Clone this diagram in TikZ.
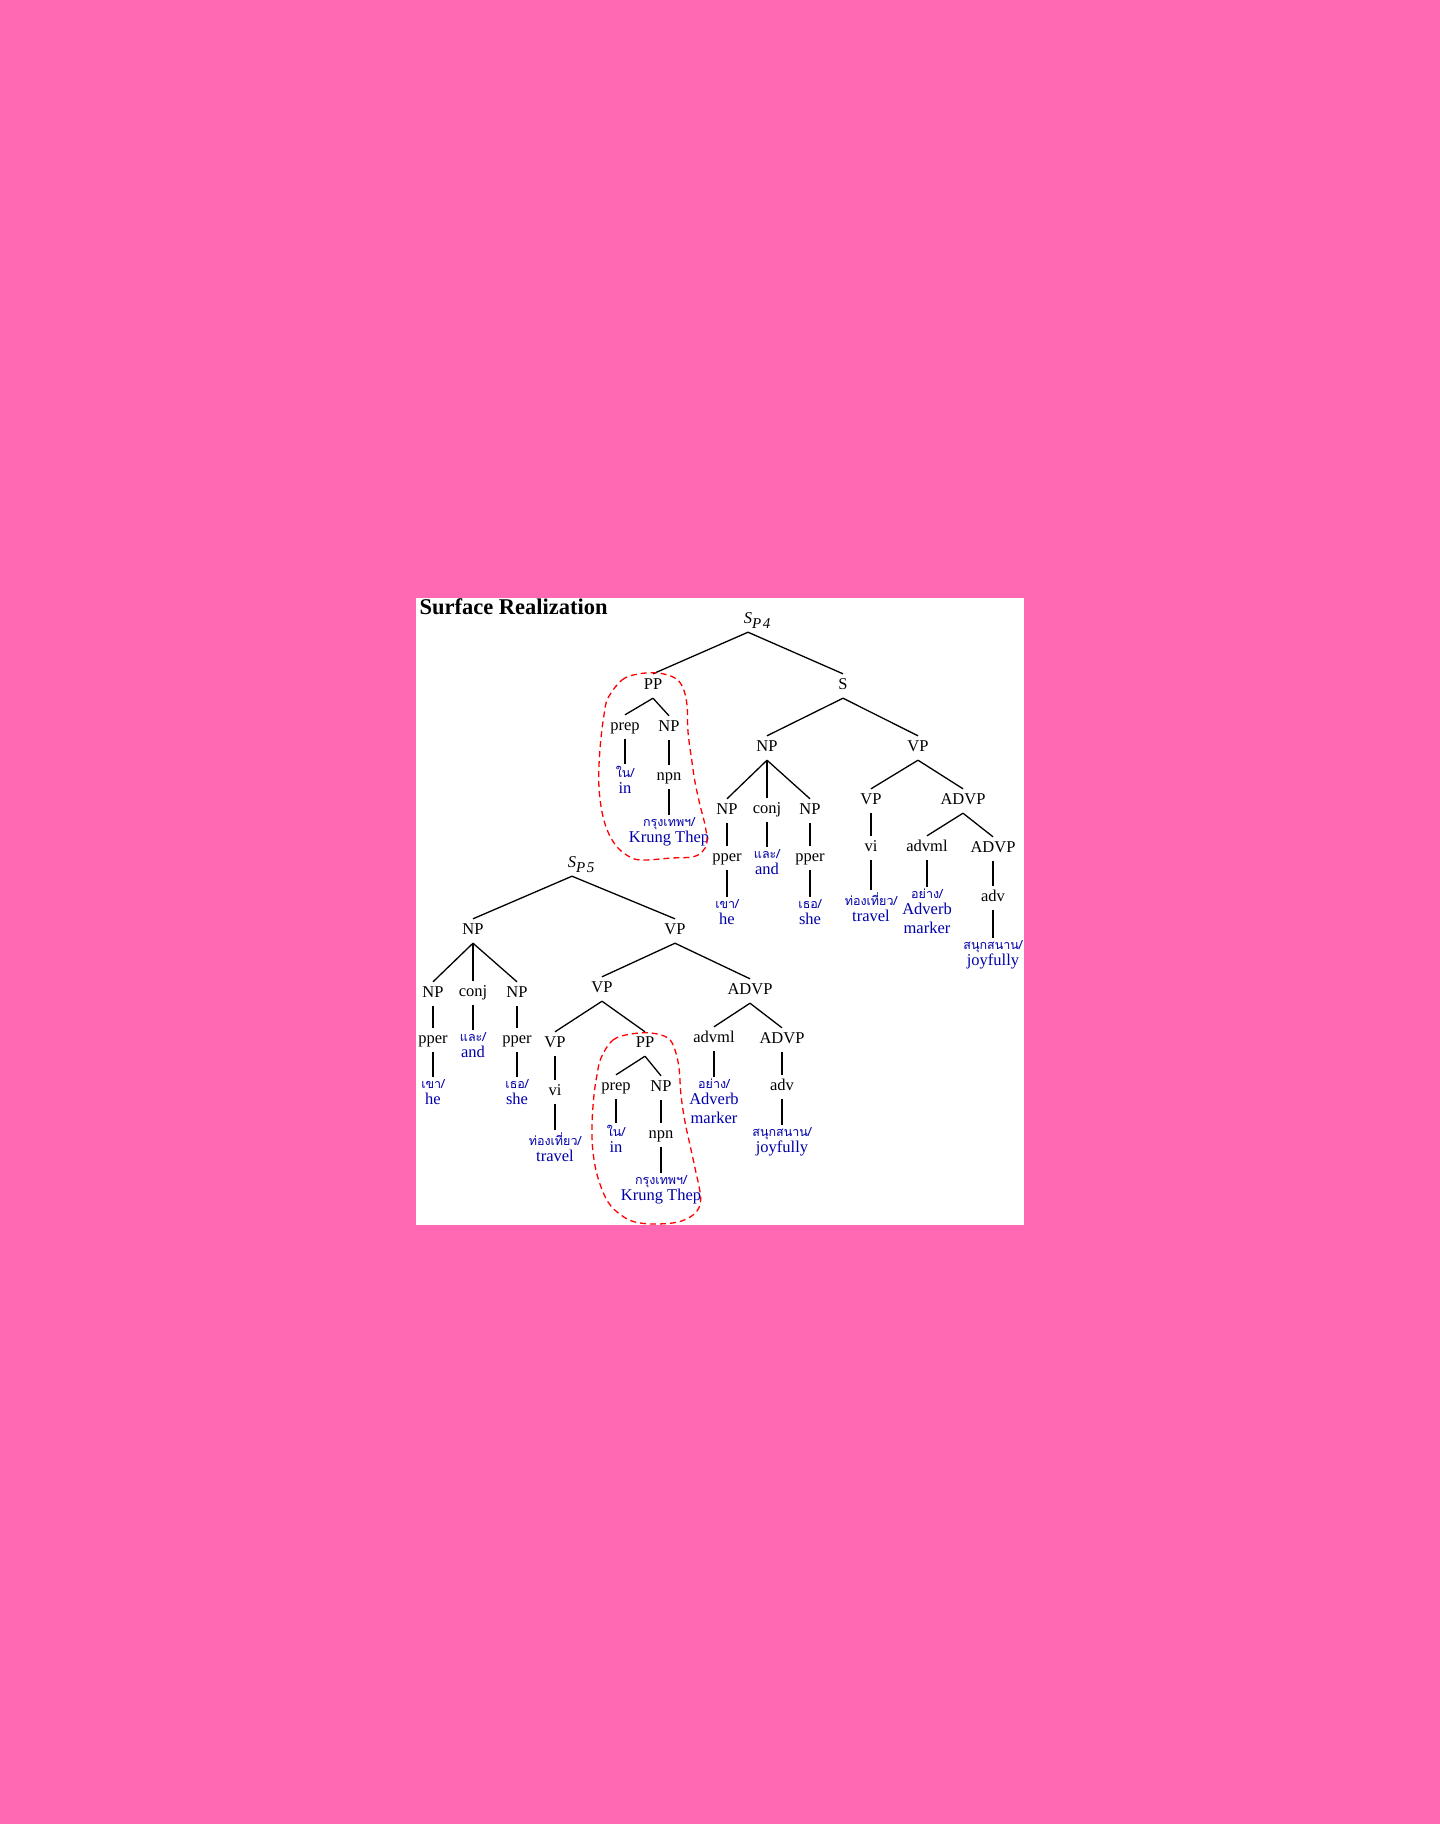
\documentclass[tikz,border=0pt]{standalone}
\usepackage{fontspec}
\setmainfont{Liberation Serif}
\newfontfamily\thaifont[Script=Thai]{Loma}
\definecolor{pinkbg}{RGB}{255,105,180}
\definecolor{wordblue}{RGB}{0,0,170}
\newcommand{\thw}[1]{{\thaifont\fontsize{12.5}{13}\selectfont #1}}
\newcommand{\subp}[1]{\rlap{\raisebox{-4.5pt}{\fontsize{15}{15}\selectfont\itshape #1}}}
\begin{document}
\begin{tikzpicture}[x = 1pt, y = -1pt]
    \fill[pinkbg] (0,0) rectangle (1440,1824);
    \fill[white] (416,598) rectangle (1024,1225);
    \useasboundingbox (0,0) rectangle (1440,1824);
    \node[anchor = base west, font = \bfseries\fontsize{22.5}{26}\selectfont] (title) at (416,614) {Surface Realization};
    \begin{scope}[every node/.append style = {font = \fontsize{16.5}{19}\selectfont, inner sep = 0pt, text height = 11pt, text depth = 3.5pt, minimum height = 24pt}]
        \node (sA) at (748,620) {\textit{S}\subp{P\kern1.5pt 4}};
        \node (ppA) at (653,686) {PP};
        \node (sAs) at (843,686) {S};
        \node (prepA) at (625,727) {prep};
        \node (npA) at (669,728) {NP};
        \node (npnA) at (669,777) {npn};
        \node (npA2) at (767,748) {NP};
        \node (vpA) at (918,748) {VP};
        \node (npA3) at (727,811) {NP};
        \node (conjA) at (767,810) {conj};
        \node (npA4) at (810,811) {NP};
        \node (pperA1) at (727,858) {pper};
        \node (pperA2) at (810,858) {pper};
        \node (vpA2) at (871,801) {VP};
        \node (adA) at (963,801) {ADVP};
        \node (viA) at (871,848) {vi};
        \node (advmlA) at (927,848) {advml};
        \node (adA2) at (993,849) {ADVP};
        \node (advA) at (993,898) {adv};
        \node (sB) at (572,864) {\textit{S}\subp{P\kern1.5pt 5}};
        \node (npB) at (473,931) {NP};
        \node (vpB) at (675,931) {VP};
        \node (npB1) at (433,994) {NP};
        \node (conjB) at (473,993) {conj};
        \node (npB2) at (517,994) {NP};
        \node (pperB1) at (433,1040) {pper};
        \node (pperB2) at (517,1040) {pper};
        \node (vpB2) at (602,989) {VP};
        \node (adB) at (750,991) {ADVP};
        \node (vpB3) at (555,1044) {VP};
        \node (ppB) at (645,1044) {PP};
        \node (viB) at (555,1092) {vi};
        \node (prepB) at (616,1087) {prep};
        \node (npB3) at (661,1088) {NP};
        \node (npnB) at (661,1135) {npn};
        \node (advmlB) at (714,1039) {advml};
        \node (adB2) at (782,1040) {ADVP};
        \node (advB) at (782,1087) {adv};
    \end{scope}
    \begin{scope}[every node/.append style = {font = \fontsize{16.5}{16}\selectfont, text = wordblue, align = center, anchor = north, inner sep = 2pt}]
        \node (inA) at (625,764) {\thw{ใน/}\\in};
        \node (kTA) at (669,815) {\thw{กรุงเทพฯ/}\\Krung Thep};
        \node (heA) at (727,897) {\thw{เขา/}\\he};
        \node (andA) at (767,847) {\thw{และ/}\\and};
        \node (sheA) at (810,897) {\thw{เธอ/}\\she};
        \node (travelA) at (871,890) {\thw{ท่องเที่ยว/}\\travel};
        \node (advmA) at (927,887) {\thw{อย่าง/}\\Adverb\\[3pt]marker};
        \node (joyA) at (993,938) {\thw{สนุกสนาน/}\\joyfully};
        \node (heB) at (433,1077) {\thw{เขา/}\\he};
        \node (andB) at (473,1030) {\thw{และ/}\\and};
        \node (sheB) at (517,1077) {\thw{เธอ/}\\she};
        \node (travelB) at (555,1130) {\thw{ท่องเที่ยว/}\\travel};
        \node (inB) at (616,1123) {\thw{ใน/}\\in};
        \node (kTB) at (661,1173) {\thw{กรุงเทพฯ/}\\Krung Thep};
        \node (advmB) at (714,1077) {\thw{อย่าง/}\\Adverb\\[3pt]marker};
        \node (joyB) at (782,1125) {\thw{สนุกสนาน/}\\joyfully};
    \end{scope}
    \begin{scope}[style = {line width = 1.3pt}]
        \draw (sA.south) -- (ppA.north);
        \draw (sA.south) -- (sAs.north);
        \draw (ppA.south) -- (prepA.north);
        \draw (ppA.south) -- (npA.north);
        \draw (prepA.south) -- (inA.north);
        \draw (npA.south) -- (npnA.north);
        \draw (npnA.south) -- (kTA.north);
        \draw (sAs.south) -- (npA2.north);
        \draw (sAs.south) -- (vpA.north);
        \draw (npA2.south) -- (npA3.north);
        \draw (npA2.south) -- (conjA.north);
        \draw (npA2.south) -- (npA4.north);
        \draw (npA3.south) -- (pperA1.north);
        \draw (conjA.south) -- (andA.north);
        \draw (npA4.south) -- (pperA2.north);
        \draw (pperA1.south) -- (heA.north);
        \draw (pperA2.south) -- (sheA.north);
        \draw (vpA.south) -- (vpA2.north);
        \draw (vpA.south) -- (adA.north);
        \draw (vpA2.south) -- (viA.north);
        \draw (viA.south) -- (travelA.north);
        \draw (adA.south) -- (advmlA.north);
        \draw (adA.south) -- (adA2.north);
        \draw (advmlA.south) -- (advmA.north);
        \draw (adA2.south) -- (advA.north);
        \draw (advA.south) -- (joyA.north);
        \draw (sB.south) -- (npB.north);
        \draw (sB.south) -- (vpB.north);
        \draw (npB.south) -- (npB1.north);
        \draw (npB.south) -- (conjB.north);
        \draw (npB.south) -- (npB2.north);
        \draw (npB1.south) -- (pperB1.north);
        \draw (conjB.south) -- (andB.north);
        \draw (npB2.south) -- (pperB2.north);
        \draw (pperB1.south) -- (heB.north);
        \draw (pperB2.south) -- (sheB.north);
        \draw (vpB.south) -- (vpB2.north);
        \draw (vpB.south) -- (adB.north);
        \draw (vpB2.south) -- (vpB3.north);
        \draw (vpB2.south) -- (ppB.north);
        \draw (vpB3.south) -- (viB.north);
        \draw (viB.south) -- (travelB.north);
        \draw (ppB.south) -- (prepB.north);
        \draw (ppB.south) -- (npB3.north);
        \draw (prepB.south) -- (inB.north);
        \draw (npB3.south) -- (npnB.north);
        \draw (npnB.south) -- (kTB.north);
        \draw (adB.south) -- (advmlB.north);
        \draw (adB.south) -- (adB2.north);
        \draw (advmlB.south) -- (advmB.north);
        \draw (adB2.south) -- (advB.north);
        \draw (advB.south) -- (joyB.north);
    \end{scope}
    \begin{scope}[style = {red, line width = 1.3pt, dash pattern = on 6pt off 4pt}]
        \draw plot[smooth cycle, tension = 0.6] coordinates {(608,698) (622,680) (638,674) (658,673) (675,678) (683,688) (687,705) (688,732) (692,762) (695,782) (700,805) (705,825) (707,842) (702,852) (692,857) (672,858) (645,860) (632,858) (618,848) (608,832) (602,812) (599,788) (599,765) (601,738) (604,715)};
        \draw plot[smooth cycle, tension = 0.6] coordinates {(601,1058) (613,1040) (631,1034) (651,1033) (668,1038) (675,1050) (679,1068) (681,1095) (685,1122) (690,1145) (695,1168) (700,1192) (700,1205) (693,1215) (678,1222) (655,1224) (635,1222) (621,1215) (608,1202) (598,1178) (593,1152) (592,1125) (594,1095) (597,1075)};
    \end{scope}
\end{tikzpicture}
\end{document}
